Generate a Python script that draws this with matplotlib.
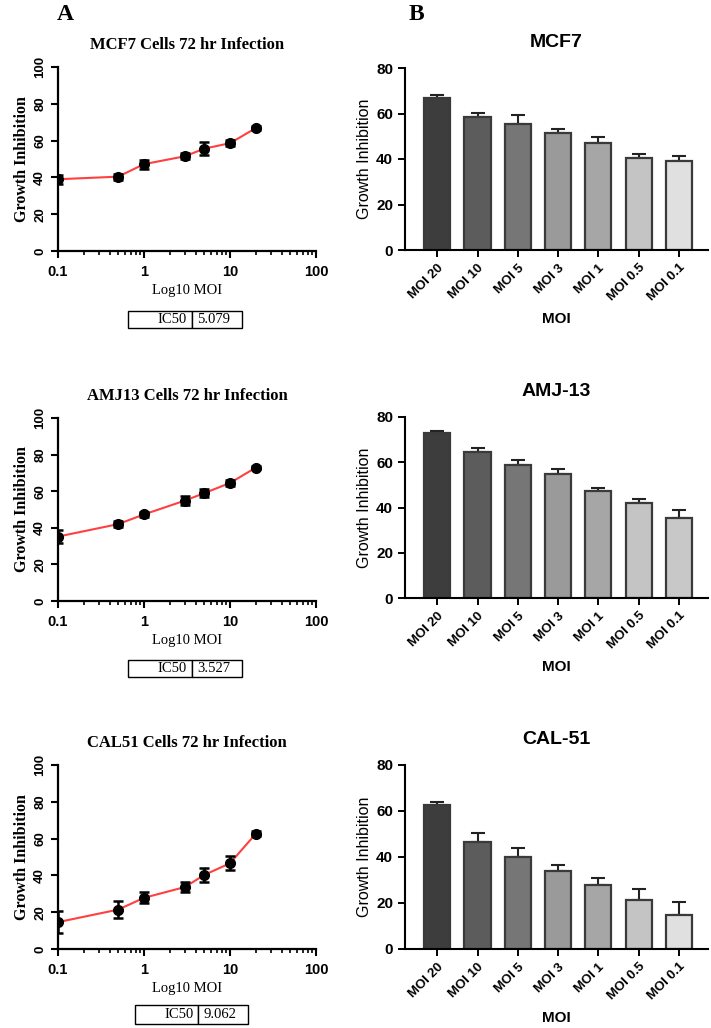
import matplotlib.pyplot as plt
import numpy as np

# MOI levels as shown in the bar charts (high to low)
moi_labels = ['MOI 20', 'MOI 10', 'MOI 5', 'MOI 3', 'MOI 1', 'MOI 0.5', 'MOI 0.1']
moi_values = [20, 10, 5, 3, 1, 0.5, 0.1]

mcf7_mean = [66.8, 58.6, 55.6, 51.5, 47.2, 40.4, 39.0]
mcf7_err = [1.2, 1.8, 3.6, 1.6, 2.4, 1.6, 2.4]
amj13_mean = [72.9, 64.5, 58.9, 54.9, 47.3, 42.0, 35.2]
amj13_err = [0.9, 1.6, 2.2, 2.3, 1.5, 1.8, 3.5]
cal51_mean = [62.7, 46.6, 40.2, 33.7, 27.8, 21.4, 14.6]
cal51_err = [1.3, 3.9, 3.8, 2.9, 3.0, 4.6, 5.9]

line_titles = ['MCF7 Cells 72 hr Infection', 'AMJ13 Cells 72 hr Infection', 'CAL51 Cells 72 hr Infection']
bar_titles = ['MCF7', 'AMJ-13', 'CAL-51']
ic50_values = ['5.079', '3.527', '9.062']

bar_colors = [
    ['#3d3d3d', '#5c5c5c', '#767676', '#9a9a9a', '#a6a6a6', '#c4c4c4', '#e0e0e0'],
    ['#3d3d3d', '#5c5c5c', '#767676', '#9a9a9a', '#a6a6a6', '#c4c4c4', '#c8c8c8'],
    ['#3d3d3d', '#5c5c5c', '#767676', '#9a9a9a', '#a6a6a6', '#c4c4c4', '#e0e0e0'],
]

W, H = 711, 1028
fig = plt.figure(figsize=(W / 100, H / 100), dpi=100)

def px_axes(x0, x1, y0, y1):
    return fig.add_axes([x0 / W, 1 - y1 / H, (x1 - x0) / W, (y1 - y0) / H])

serif = 'Liberation Serif'
sans = 'Liberation Sans'

left_rows = [(67, 251), (418, 601), (765, 949)]
right_rows = [(68, 250), (417, 598), (765, 949)]
table_boxes = [(128, 242, 311, 328), (128, 242, 660, 677), (135, 248, 1005, 1024)]

data = [(mcf7_mean, mcf7_err), (amj13_mean, amj13_err), (cal51_mean, cal51_err)]

for i in range(3):
    mean, err = data[i]
    # ---- left: dose response on log axis
    ax = px_axes(58, 316, *left_rows[i])
    x = moi_values[::-1]
    y = mean[::-1]
    e = err[::-1]
    ax.plot(x, y, color='#ff4040', lw=1.5, zorder=2)
    ax.errorbar(x, y, yerr=e, fmt='o', color='black', ms=7, capsize=3.8,
                elinewidth=1.8, capthick=1.8, zorder=3)
    ax.set_xscale('log')
    ax.set_xlim(0.1, 100)
    ax.set_ylim(0, 100)
    ax.set_yticks([0, 20, 40, 60, 80, 100])
    ax.set_xticks([0.1, 1, 10, 100])
    ax.set_xticklabels(['0.1', '1', '10', '100'])
    for s in ['top', 'right']:
        ax.spines[s].set_visible(False)
    for s in ['left', 'bottom']:
        ax.spines[s].set_linewidth(1.6)
    ax.tick_params(which='major', length=5, width=1.5)
    ax.tick_params(which='minor', length=3, width=1.2)
    ax.tick_params(axis='x', pad=5)
    for lab in ax.get_yticklabels():
        lab.set_rotation(90)
        lab.set_va('center')
        lab.set_fontweight('bold')
        lab.set_fontfamily(sans)
        lab.set_fontsize(9.5)
    for lab in ax.get_xticklabels():
        lab.set_fontweight('bold')
        lab.set_fontfamily(sans)
        lab.set_fontsize(10.5)
    ax.set_title(line_titles[i], fontfamily=serif, fontweight='bold', fontsize=12, pad=13)
    ax.set_ylabel('Growth Inhibition', fontfamily=serif, fontweight='bold', fontsize=11.5, labelpad=3)
    ax.set_xlabel('Log10 MOI', fontfamily=serif, fontsize=10.5, labelpad=4)

    bx0, bx1, by0, by1 = table_boxes[i]
    lb, rb = left_rows[i]
    hh = rb - lb
    tb = ax.table(cellText=[['IC50', ic50_values[i]]],
                  bbox=[(bx0 - 58) / 258, (rb - by1) / hh, (bx1 - bx0) / 258, (by1 - by0) / hh],
                  colWidths=[64, 50], cellLoc='center')
    tb.auto_set_font_size(False)
    for (r, c), cell in tb.get_celld().items():
        cell.set_linewidth(1.0)
        cell.get_text().set_fontfamily(serif)
        cell.get_text().set_fontsize(10.5)
        if c == 0:
            cell.get_text().set_ha('right')
            cell.PAD = 0.08
        else:
            cell.get_text().set_ha('left')
            cell.PAD = 0.1

    # ---- right: bar chart
    axb = px_axes(405, 708, *right_rows[i])
    pos = np.arange(len(moi_labels))
    axb.bar(pos, mean, width=0.65, color=bar_colors[i], edgecolor='#3a3a3a', linewidth=1.6, zorder=2)
    axb.errorbar(pos, mean, yerr=[np.zeros(len(err)), err], fmt='none', ecolor='#222222',
                 elinewidth=1.5, capsize=5, capthick=1.5, zorder=1)
    axb.set_xlim(-0.8, 6.72)
    axb.set_ylim(0, 80)
    axb.set_yticks([0, 20, 40, 60, 80])
    axb.set_xticks(pos)
    axb.set_xticklabels(moi_labels, rotation=45, ha='right', rotation_mode='anchor',
                        fontfamily=sans, fontweight='bold', fontsize=9.5)
    for lab in axb.get_yticklabels():
        lab.set_fontfamily(sans)
        lab.set_fontweight('bold')
        lab.set_fontsize(11)
    for s in ['top', 'right']:
        axb.spines[s].set_visible(False)
    for s in ['left', 'bottom']:
        axb.spines[s].set_linewidth(1.5)
    axb.tick_params(length=5, width=1.4)
    axb.set_title(bar_titles[i], fontfamily=sans, fontweight='bold', fontsize=14, pad=15)
    axb.set_ylabel('Growth Inhibition', fontfamily=sans, fontsize=11.5, labelpad=3)
    axb.set_xlabel('MOI', fontfamily=sans, fontweight='bold', fontsize=11, labelpad=6)

fig.text(57 / W, 1 - 14 / H, 'A', fontfamily=serif, fontweight='bold', fontsize=17, va='center')
fig.text(409 / W, 1 - 14 / H, 'B', fontfamily=serif, fontweight='bold', fontsize=17, va='center')

fig.savefig('out.png', dpi=100)
